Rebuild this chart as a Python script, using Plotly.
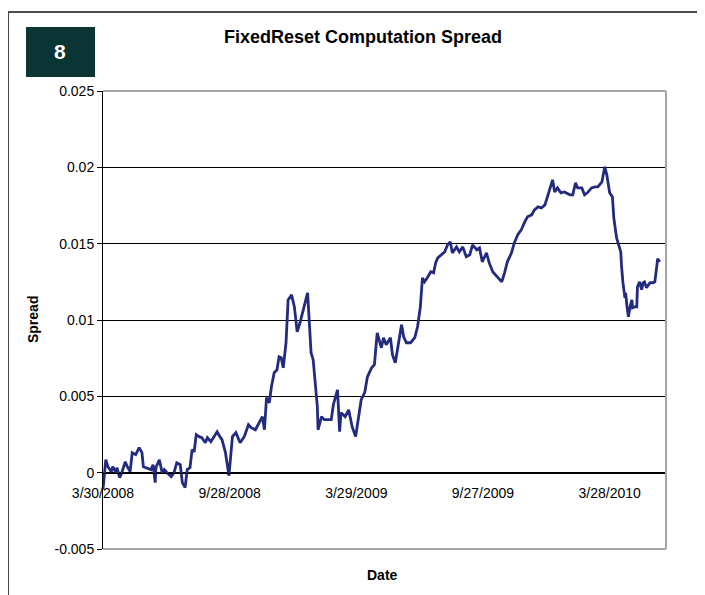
import pandas as pd
import plotly.graph_objects as go

# ---- data ----
start_date = "2008-03-30"
# days since 3/30/2008
day_offsets = [
    0, 4, 7, 12, 14, 19, 20, 24, 27, 32, 35, 39, 42, 47, 52, 56, 58, 62, 69, 72,
    75, 76, 81, 85, 88, 92, 98, 102, 106, 111, 114, 118, 121, 125, 128, 131, 134, 138, 142, 147,
    150, 155, 160, 164, 168, 171, 176, 180, 181, 186, 191, 197, 203, 209, 213, 219, 224, 229, 232, 235,
    239, 242, 246, 250, 253, 256, 259, 263, 266, 271, 275, 279, 283, 288, 294, 296, 299, 302, 305, 308,
    309, 314, 318, 322, 328, 331, 337, 340, 342, 348, 353, 358, 363, 366, 371, 376, 380, 386, 390, 394,
    400, 403, 407, 413, 416, 420, 423, 429, 432, 436, 442, 448, 452, 456, 459, 462, 466, 471, 475, 478,
    481, 486, 491, 495, 499, 502, 508, 512, 517, 522, 527, 531, 537, 541, 545, 551, 555, 560, 566, 570,
    573, 577, 581, 587, 591, 596, 601, 606, 610, 616, 620, 625, 630, 635, 639, 643, 646, 649, 653, 658,
    663, 671, 675, 679, 682, 688, 692, 696, 702, 707, 711, 717, 718, 721, 724, 725, 728, 732, 734, 737,
    738, 741, 744, 745, 747, 750, 751, 753, 755, 757, 760, 761, 764, 767, 768, 771, 774, 776, 778, 781,
    786, 790, 793, 796, 797, 800,
]
spread = [
    -0.0011, 0.00085, 0.00039, 0.00007, 0.00039, 0.0, 0.00033, -0.00033, 0.0, 0.00072,
    0.00039, 0.00007, 0.00131, 0.00118, 0.00164, 0.00131, 0.00039, 0.00033, 0.0002, 0.00052,
    -0.00065, 0.00033, 0.00085, 0.0, 0.0002, 0.0, -0.00026, 0.0, 0.00065, 0.00052,
    -0.00065, -0.00098, 0.0002, 0.00033, 0.0015, 0.00137, 0.00249, 0.00236, 0.00229, 0.00196,
    0.00229, 0.00203, 0.00236, 0.00268, 0.00236, 0.00216, 0.00131, 0.0002, -0.0002, 0.00236,
    0.00262, 0.00196, 0.00236, 0.00314, 0.00295, 0.00281, 0.00327, 0.00367, 0.00281, 0.00491,
    0.00458, 0.00563, 0.00655, 0.00674, 0.00759, 0.00753, 0.00687, 0.00851, 0.01132, 0.01165,
    0.01086, 0.00923, 0.00982, 0.01067, 0.01178, 0.01021, 0.00785, 0.0074, 0.00609, 0.00432,
    0.00281, 0.00367, 0.00347, 0.00347, 0.00347, 0.00445, 0.00543, 0.00268, 0.00393, 0.00367,
    0.00412, 0.00301, 0.00236, 0.00327, 0.00478, 0.00524, 0.00628, 0.00687, 0.00707, 0.00916,
    0.00818, 0.00884, 0.00838, 0.00884, 0.00772, 0.0072, 0.00805, 0.00969, 0.0089, 0.00851,
    0.00851, 0.00884, 0.00956, 0.01086, 0.01276, 0.0125, 0.01276, 0.01316, 0.01309, 0.01374,
    0.01407, 0.01427, 0.01446, 0.01492, 0.01512, 0.0144, 0.01479, 0.01446, 0.01479, 0.01414,
    0.01427, 0.01492, 0.0146, 0.01473, 0.01381, 0.0144, 0.01374, 0.01316, 0.01283, 0.01263,
    0.0125, 0.01309, 0.01381, 0.0144, 0.01505, 0.01558, 0.0159, 0.01643, 0.01676, 0.01689,
    0.01721, 0.01741, 0.01734, 0.01754, 0.01806, 0.01872, 0.01918, 0.01839, 0.01865, 0.01833,
    0.01839, 0.0182, 0.0182, 0.01898, 0.01865, 0.01865, 0.0182, 0.01833, 0.01865, 0.01872,
    0.01872, 0.01905, 0.01931, 0.02003, 0.0195, 0.01918, 0.01833, 0.01806, 0.01669, 0.01571,
    0.01538, 0.01492, 0.01446, 0.01361, 0.0125, 0.01145, 0.01178, 0.01086, 0.01021, 0.0108,
    0.01132, 0.0108, 0.01086, 0.01086, 0.01217, 0.0125, 0.01198, 0.01244, 0.0125, 0.01211,
    0.01244, 0.01244, 0.0125, 0.01361, 0.01401, 0.01381,
]
x_tick_dates = ["2008-03-30", "2008-09-28", "2009-03-29", "2009-09-27", "2010-03-28"]
x_tick_labels = ["3/30/2008", "9/28/2008", "3/29/2009", "9/27/2009", "3/28/2010"]
y_tick_values = [-0.005, 0, 0.005, 0.01, 0.015, 0.02, 0.025]
y_tick_labels = ["-0.005", "0", "0.005", "0.01", "0.015", "0.02", "0.025"]
axis_end_days = 809

start = pd.to_datetime(start_date)
dates = start + pd.to_timedelta(day_offsets, unit="D")
x_end = start + pd.to_timedelta(axis_end_days, unit="D")

FONT = "Liberation Sans, Arial, sans-serif"

fig = go.Figure()
fig.add_trace(go.Scatter(
    x=dates, y=spread, mode="lines",
    line=dict(color="#232b7e", width=2.8),
    showlegend=False, hoverinfo="x+y",
))

# y=0 lies at 1/6 of the y range
zero_pos = (0 - y_tick_values[0]) / (y_tick_values[-1] - y_tick_values[0])

fig.update_layout(
    width=705, height=595,
    margin=dict(l=95, r=47, t=83, b=54),
    paper_bgcolor="white", plot_bgcolor="white",
    font=dict(family=FONT, color="black", size=14),
    xaxis=dict(
        type="date", range=[start, x_end],
        tickvals=x_tick_dates, ticktext=x_tick_labels,
        showgrid=False, zeroline=False,
        showline=True, linecolor="black", linewidth=1,
        anchor="free", position=zero_pos,
        ticks="outside", ticklen=8, tickcolor="rgba(0,0,0,0)",
        tickfont=dict(size=14, color="black"),
        domain=[0, 1],
    ),
    yaxis=dict(
        range=[y_tick_values[0], y_tick_values[-1]],
        tickvals=y_tick_values, ticktext=y_tick_labels,
        showgrid=True, gridcolor="black", gridwidth=1,
        zeroline=False,
        showline=True, linecolor="black", linewidth=1,
        ticks="outside", ticklen=5, tickcolor="black",
        tickfont=dict(size=14, color="black"),
        domain=[0, 1],
    ),
)

# plot-area border (gray) top, right, bottom
border = "#a6a6a6"
fig.add_shape(type="line", xref="paper", yref="paper", x0=0, x1=1, y0=1, y1=1,
              line=dict(color=border, width=2), layer="above")
fig.add_shape(type="line", xref="paper", yref="paper", x0=1, x1=1, y0=0, y1=1,
              line=dict(color=border, width=2), layer="above")
fig.add_shape(type="line", xref="paper", yref="paper", x0=0, x1=1, y0=0, y1=0,
              line=dict(color=border, width=2), layer="above")

# outer chart frame
fig.add_shape(type="path", xref="paper", yref="paper",
              path="M -0.1687 -0.13 L -0.1687 1.1725 L 1.1 1.1725",
              line=dict(color="#4a4a4a", width=2))

# badge
fig.add_shape(type="rect", xref="paper", yref="paper",
              x0=-0.1368, x1=-0.0142, y0=1.0306, y1=1.1397,
              fillcolor="#0b3434", line=dict(width=0))
fig.add_annotation(xref="paper", yref="paper", x=-0.0755, y=1.0852,
                   text="<b>8</b>", showarrow=False,
                   font=dict(color="white", size=21, family=FONT),
                   xanchor="center", yanchor="middle")

# title and axis titles
fig.add_annotation(xref="paper", yref="paper", x=0.4618, y=1.118,
                   text="<b>FixedReset Computation Spread</b>", showarrow=False,
                   font=dict(size=18, family=FONT, color="black"),
                   xanchor="center", yanchor="middle")
fig.add_annotation(xref="paper", yref="paper", x=-0.1243, y=0.5,
                   text="<b>Spread</b>", showarrow=False, textangle=-90,
                   font=dict(size=14, family=FONT, color="black"),
                   xanchor="center", yanchor="middle")
fig.add_annotation(xref="paper", yref="paper", x=0.4973, y=-0.0568,
                   text="<b>Date</b>", showarrow=False,
                   font=dict(size=14, family=FONT, color="black"),
                   xanchor="center", yanchor="middle")

fig.write_html("out.html")
